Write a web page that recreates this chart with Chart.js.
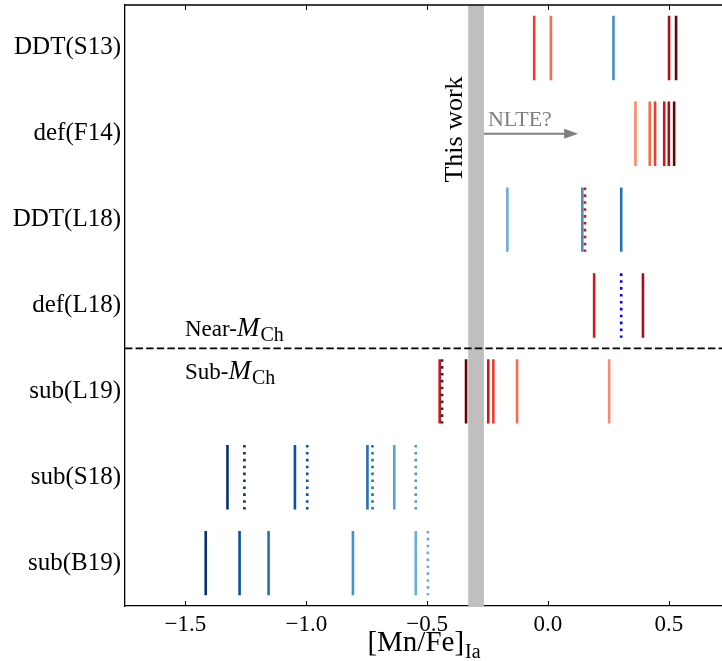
<!DOCTYPE html>
<html><head><meta charset="utf-8">
<script src="https://cdn.jsdelivr.net/npm/chart.js@4.4.1/dist/chart.umd.min.js"></script>
<style>html,body{margin:0;padding:0;background:#fff}#wrap{width:722px;height:661px;position:relative}</style>
</head><body><div id="wrap"><canvas id="c"></canvas></div>
<script>
// ---- data ----
const categories = ['DDT(S13)','def(F14)','DDT(L18)','def(L18)','sub(L19)','sub(S18)','sub(B19)'];
const xTicks = [-1.5, -1.0, -0.5, 0.0, 0.5];
const xTickLabels = ['\u22121.5','\u22121.0','\u22120.5','0.0','0.5'];
const valuesS13   = [-0.057, 0.012, 0.271, 0.501, 0.530];
const valuesF14   = [0.362, 0.421, 0.443, 0.481, 0.500, 0.522];
const valuesDDTL18 = [-0.168, 0.142, 0.153, 0.303];
const valuesDefL18 = [0.191, 0.303, 0.393];
const valuesL19   = [-0.448, -0.438, -0.339, -0.247, -0.226, -0.128, 0.253];
const valuesS18   = [-1.326, -1.256, -1.047, -0.996, -0.747, -0.726, -0.636, -0.547];
const valuesB19   = [-1.416, -1.276, -1.156, -0.807, -0.547, -0.497];
const thisWorkRange = [-0.33, -0.265];
const nlteArrow = [-0.265, 0.125];
const nlteRow = 1.0;
const dividerRow = 3.5;
const xRange = [-1.75, 0.72];

// ---- styles ----
const colorsS13 = ['#ef3b2c','#fb6a4a','#4292c6','#a50f15','#67000d'];
const colorsF14 = ['#fc8a6a','#fb6a4a','#ef3b2c','#cb181d','#a50f15','#67000d'];
const colorsDDTL18 = ['#6baed6','#4292c6','#ff0000','#2171b5'];
const colorsDefL18 = ['#cb181d','#0000ff','#a50f15'];
const colorsL19 = ['#cb181d','#08306b','#67000d','#cb181d','#ef3b2c','#fb6a4a','#fc8a6a'];
const colorsS18 = ['#08306b','#08306b','#08519c','#08519c','#2171b5','#2171b5','#5aa2d4','#4a98cf'];
const colorsB19 = ['#08306b','#08519c','#2171b5','#4292c6','#6baed6','#6baed6'];
const dottedDDTL18 = [false,false,true,false];
const dottedDefL18 = [false,true,false];
const dottedL19 = [false,true,false,false,false,false,false];
const dottedS18 = [false,true,false,true,false,true,false,true];
const dottedB19 = [false,false,false,false,false,true];

const rows = [
  {v: valuesS13, c: colorsS13, d: null},
  {v: valuesF14, c: colorsF14, d: null},
  {v: valuesDDTL18, c: colorsDDTL18, d: dottedDDTL18},
  {v: valuesDefL18, c: colorsDefL18, d: dottedDefL18},
  {v: valuesL19, c: colorsL19, d: dottedL19},
  {v: valuesS18, c: colorsS18, d: dottedS18},
  {v: valuesB19, c: colorsB19, d: dottedB19},
];
const HALF = 0.375;
const datasets = [];
rows.forEach((row, r) => {
  row.v.forEach((v, i) => {
    const dotted = row.d ? row.d[i] : false;
    datasets.push({
      type: 'line',
      data: [{x: v, y: r - HALF}, {x: v, y: r + HALF}],
      borderColor: row.c[i],
      borderWidth: 2.6,
      borderDash: dotted ? [2.6, 4.3] : [],
      borderCapStyle: 'butt',
      pointRadius: 0,
      order: dotted ? 0 : 1
    });
  });
});
datasets.push({
  type: 'line',
  data: [{x: xRange[0], y: dividerRow}, {x: xRange[1], y: dividerRow}],
  borderColor: '#000', borderWidth: 1.8, borderDash: [7.4, 3.2],
  borderCapStyle: 'butt', pointRadius: 0, order: 2
});

const SERIF = '"Liberation Serif", "DejaVu Serif", serif';

const deco = {
  id: 'deco',
  beforeDatasetsDraw(chart) {
    const {ctx, chartArea: a, scales: {x, y}} = chart;
    ctx.save();
    const x0 = x.getPixelForValue(thisWorkRange[0]);
    const x1 = x.getPixelForValue(thisWorkRange[1]);
    ctx.fillStyle = '#bfbfbf';
    ctx.fillRect(x0, a.top, x1 - x0, a.bottom - a.top);
    ctx.restore();
  },
  afterDraw(chart) {
    const {ctx, chartArea: a, scales: {x, y}} = chart;
    ctx.save();
    // top spine
    ctx.strokeStyle = '#000'; ctx.lineWidth = 1.3;
    ctx.beginPath(); ctx.moveTo(a.left, a.top); ctx.lineTo(a.right, a.top); ctx.stroke();
    // inward ticks
    ctx.lineWidth = 1;
    xTicks.forEach(t => {
      const px = Math.round(x.getPixelForValue(t)) + 0.5;
      ctx.beginPath(); ctx.moveTo(px, a.bottom); ctx.lineTo(px, a.bottom - 5); ctx.stroke();
      ctx.beginPath(); ctx.moveTo(px, a.top); ctx.lineTo(px, a.top + 5); ctx.stroke();
    });
    // This work
    const bx = x.getPixelForValue(thisWorkRange[0]);
    ctx.fillStyle = '#000';
    ctx.font = '26px ' + SERIF;
    ctx.translate(bx - 6, y.getPixelForValue(0.95));
    ctx.rotate(-Math.PI / 2);
    ctx.textAlign = 'center'; ctx.textBaseline = 'alphabetic';
    ctx.fillText('This work', 0, 0);
    ctx.restore();

    // NLTE arrow
    ctx.save();
    const ax0 = x.getPixelForValue(nlteArrow[0]);
    const ax1 = x.getPixelForValue(nlteArrow[1]);
    const ay = y.getPixelForValue(nlteRow);
    ctx.strokeStyle = '#808080'; ctx.fillStyle = '#808080'; ctx.lineWidth = 2;
    ctx.beginPath(); ctx.moveTo(ax0, ay); ctx.lineTo(ax1 - 12, ay); ctx.stroke();
    ctx.beginPath(); ctx.moveTo(ax1, ay); ctx.lineTo(ax1 - 14, ay - 5); ctx.lineTo(ax1 - 14, ay + 5); ctx.closePath(); ctx.fill();
    ctx.font = '22px ' + SERIF;
    ctx.textAlign = 'left'; ctx.textBaseline = 'alphabetic';
    ctx.fillText('NLTE?', ax0 + 4, ay - 8);
    ctx.restore();

    // Near / Sub labels
    ctx.save();
    ctx.fillStyle = '#000';
    const drawM = (prefix, px, py) => {
      ctx.font = '23px ' + SERIF;
      ctx.textAlign = 'left'; ctx.textBaseline = 'alphabetic';
      ctx.fillText(prefix, px, py);
      let w = ctx.measureText(prefix).width;
      ctx.font = 'italic 27px ' + SERIF;
      ctx.fillText('M', px + w, py);
      w += ctx.measureText('M').width;
      ctx.font = '20px ' + SERIF;
      ctx.fillText('Ch', px + w + 1, py + 5);
    };
    const ly = y.getPixelForValue(dividerRow);
    drawM('Near-', 185, ly - 12);
    drawM('Sub-', 185, ly + 31);
    // x axis title
    ctx.font = '29px ' + SERIF;
    const main = '[Mn/Fe]';
    const mw = ctx.measureText(main).width;
    ctx.font = '20px ' + SERIF;
    const sw = ctx.measureText('Ia').width;
    const cx = (a.left + a.right) / 2;
    const start = cx - (mw + sw) / 2;
    ctx.font = '29px ' + SERIF;
    ctx.textAlign = 'left';
    ctx.fillText(main, start, 651);
    ctx.font = '20px ' + SERIF;
    ctx.fillText('Ia', start + mw + 1, 658);
    ctx.restore();
  }
};

new Chart(document.getElementById('c'), {
  type: 'scatter',
  data: {datasets},
  options: {
    responsive: true, maintainAspectRatio: false, animation: false,
    layout: {padding: {top: 5, right: 0, bottom: 0, left: 0}},
    plugins: {legend: {display: false}, tooltip: {enabled: false}},
    scales: {
      x: {
        type: 'linear', min: xRange[0], max: xRange[1],
        afterBuildTicks: s => { s.ticks = xTicks.map(v => ({value: v})); },
        afterFit: s => { s.height = 55; s.paddingLeft = 0; s.paddingRight = 0; },
        grid: {display: false, drawTicks: false},
        border: {display: true, color: '#000', width: 1.3},
        ticks: {
          padding: 5, color: '#000',
          font: {family: SERIF, size: 23},
          callback: (v) => { const i = xTicks.indexOf(v); return i >= 0 ? xTickLabels[i] : ''; }
        }
      },
      y: {
        type: 'linear', min: -0.5, max: 6.5, reverse: true,
        afterBuildTicks: s => { s.ticks = categories.map((c, i) => ({value: i})); },
        afterFit: s => { s.width = 125; s.paddingTop = 0; s.paddingBottom = 0; },
        grid: {display: false, drawTicks: false},
        border: {display: true, color: '#000', width: 1.3},
        ticks: {
          padding: 4, color: '#000',
          font: {family: SERIF, size: 25},
          callback: (v) => categories[v] !== undefined ? categories[v] : ''
        }
      }
    }
  },
  plugins: [deco]
});
</script></body></html>
